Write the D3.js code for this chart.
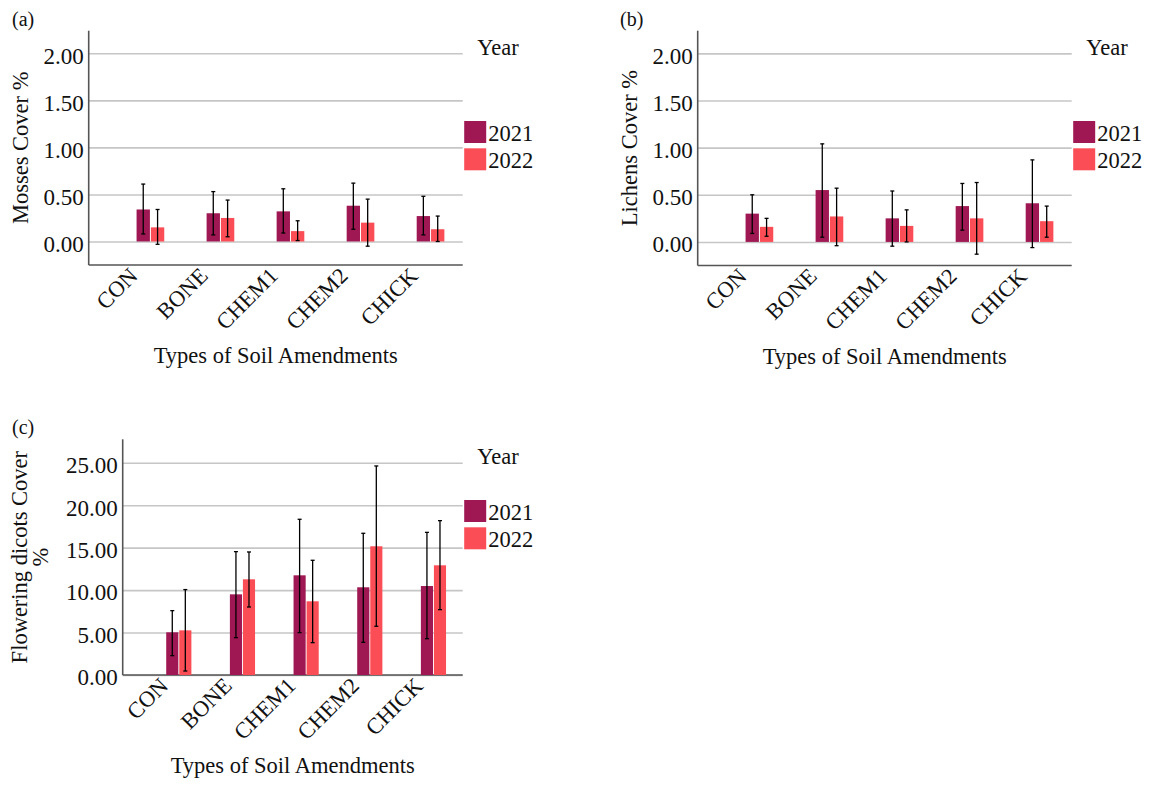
<!DOCTYPE html>
<html>
	<head>
		<meta charset="utf-8"/>
		<script type="text/javascript" src="https://cdn.jsdelivr.net/npm/d3@7"></script>
		<style>
			body {
				margin:0;
				background:#fff;
			}
			svg text {
				font-family:"Liberation Serif", "Times New Roman", serif;
				fill:#111;
			}
			.grid line {
				stroke:#c6c6c6;
				stroke-width:1.6;
			}
			.grid .domain {
				display:none;
			}
			.grid text {
				font-size:23px;
			}
			.axisline {
				stroke:#555;
				stroke-width:1.6;
			}
			.errbar {
				stroke:#000;
				stroke-width:1.3;
			}
		</style>
	</head>
	<body>
		<script>
			var categories = ["CON", "BONE", "CHEM1", "CHEM2", "CHICK"];
			var years = ["2021", "2022"];
			var colors = ["#9f1853", "#fa4d56"];

			var mosses2021 = [0.34, 0.30, 0.32, 0.38, 0.27];
			var mosses2021Low = [0.08, 0.07, 0.09, 0.13, 0.07];
			var mosses2021High = [0.61, 0.53, 0.56, 0.62, 0.48];
			var mosses2022 = [0.15, 0.25, 0.11, 0.20, 0.13];
			var mosses2022Low = [-0.03, 0.05, 0.01, -0.05, 0.00];
			var mosses2022High = [0.34, 0.44, 0.22, 0.45, 0.27];

			var lichens2021 = [0.30, 0.55, 0.25, 0.38, 0.41];
			var lichens2021Low = [0.09, 0.05, -0.045, 0.125, -0.06];
			var lichens2021High = [0.50, 1.04, 0.54, 0.62, 0.87];
			var lichens2022 = [0.16, 0.27, 0.17, 0.25, 0.22];
			var lichens2022Low = [0.06, -0.04, 0.00, -0.13, 0.05];
			var lichens2022High = [0.25, 0.57, 0.34, 0.63, 0.38];

			var dicots2021 = [5.03, 9.50, 11.74, 10.33, 10.48];
			var dicots2021Low = [2.28, 4.40, 4.99, 3.85, 4.28];
			var dicots2021High = [7.58, 14.53, 18.34, 16.69, 16.80];
			var dicots2022 = [5.26, 11.27, 8.68, 15.16, 12.92];
			var dicots2022Low = [0.47, 8.01, 3.81, 5.74, 7.70];
			var dicots2022High = [10.06, 14.49, 13.51, 24.62, 18.18];

			var ticksSmall = [0, 0.5, 1, 1.5, 2];
			var ticksLarge = [0, 5, 10, 15, 20, 25];

			var serif = "Liberation Serif, Times New Roman, serif";

			var svg = d3.select("body").append("svg")
				.attr("width", 1149)
				.attr("height", 785);

			drawPanel({
				label:"(a)", labelX:12, labelY:25.5,
				left:88.7, right:462.7, top:30.7, bottom:265,
				domain:[-0.25, 2.24], ticks:ticksSmall,
				title:["Mosses Cover %"],
				means:[mosses2021, mosses2022],
				lows:[mosses2021Low, mosses2022Low],
				highs:[mosses2021High, mosses2022High],
				swatchTop:121
			});
			drawPanel({
				label:"(b)", labelX:620, labelY:25.5,
				left:697.7, right:1071.7, top:30.7, bottom:265.5,
				domain:[-0.25, 2.24], ticks:ticksSmall,
				title:["Lichens Cover %"],
				means:[lichens2021, lichens2022],
				lows:[lichens2021Low, lichens2022Low],
				highs:[lichens2021High, lichens2022High],
				swatchTop:121
			});
			drawPanel({
				label:"(c)", labelX:12, labelY:434,
				left:122.7, right:462.7, top:439.3, bottom:675,
				domain:[0, 27.76], ticks:ticksLarge,
				title:["Flowering dicots Cover", "%"],
				means:[dicots2021, dicots2022],
				lows:[dicots2021Low, dicots2022Low],
				highs:[dicots2021High, dicots2022High],
				swatchTop:500
			});

			function drawPanel(p) {
				var W = p.right - p.left;
				var y = d3.scaleLinear().domain(p.domain).range([p.bottom, p.top]);
				var x = d3.scalePoint().domain(categories)
					.range([p.left + 0.165*W, p.left + 0.914*W]);
				var inner = d3.scaleBand().domain(years)
					.range([-0.037*W, 0.037*W]).paddingInner(0.07);

				var g = svg.append("g");

				g.append("g")
					.attr("class", "grid")
					.attr("transform", "translate(" + p.left + ",0)")
					.call(d3.axisLeft(y).tickValues(p.ticks)
						.tickFormat(d3.format(".2f"))
						.tickSize(-W).tickPadding(5))
					.attr("font-family", serif)
					.attr("font-size", 23)
					.selectAll("text").attr("dy", "0.43em");

				g.append("line").attr("class", "axisline")
					.attr("x1", p.left).attr("x2", p.left)
					.attr("y1", p.top).attr("y2", p.bottom);
				g.append("line").attr("class", "axisline")
					.attr("x1", p.left).attr("x2", p.right)
					.attr("y1", p.bottom).attr("y2", p.bottom);

				years.forEach(function(yr, k) {
					var rows = categories.map(function(c, i) {
						return {cat:c, v:p.means[k][i], lo:p.lows[k][i], hi:p.highs[k][i]};
					});
					var bars = g.append("g");
					bars.selectAll("rect").data(rows).enter().append("rect")
						.attr("x", function(d) { return x(d.cat) + inner(yr); })
						.attr("width", inner.bandwidth())
						.attr("y", function(d) { return y(d.v); })
						.attr("height", function(d) { return y(0) - y(d.v); })
						.attr("fill", colors[k]);

					var eb = g.append("g").attr("class", "errbar");
					rows.forEach(function(d) {
						var cx = x(d.cat) + inner(yr) + inner.bandwidth()/2;
						eb.append("line").attr("x1", cx).attr("x2", cx)
							.attr("y1", y(d.lo)).attr("y2", y(d.hi));
						eb.append("line").attr("x1", cx - 2).attr("x2", cx + 2)
							.attr("y1", y(d.lo)).attr("y2", y(d.lo));
						eb.append("line").attr("x1", cx - 2).attr("x2", cx + 2)
							.attr("y1", y(d.hi)).attr("y2", y(d.hi));
					});
				});

				// category labels, rotated
				categories.forEach(function(c) {
					var lx = x(c) - 0.06*W, ly = p.bottom + 1;
					g.append("text")
						.attr("transform", "translate(" + lx + "," + ly + ") rotate(-45)")
						.attr("text-anchor", "end")
						.attr("dy", "0.7em")
						.style("font-size", "22.5px")
						.text(c);
				});

				g.append("text")
					.attr("x", (p.left + p.right)/2)
					.attr("y", p.bottom + 98)
					.attr("text-anchor", "middle")
					.style("font-size", "22.5px")
					.text("Types of Soil Amendments");

				var cy = (p.top + p.bottom)/2;
				var n = p.title.length;
				p.title.forEach(function(t, i) {
					var bx = p.left - 61 - (n - 1 - i)*21 - (n > 1 ? 14 : 0);
					g.append("text")
						.attr("transform", "translate(" + bx + "," + cy + ") rotate(-90)")
						.attr("text-anchor", "middle")
						.style("font-size", "22.5px")
						.text(t);
				});

				g.append("text")
					.attr("x", p.labelX).attr("y", p.labelY)
					.style("font-size", "20px")
					.text(p.label);

				// legend
				var lx0 = p.right + 1.5;
				g.append("text")
					.attr("x", lx0 + 13).attr("y", p.top + 24.5)
					.style("font-size", "22.5px")
					.text("Year");
				years.forEach(function(yr, k) {
					var ty = p.swatchTop + k*27.3;
					g.append("rect")
						.attr("x", lx0).attr("y", ty)
						.attr("width", 22).attr("height", 22)
						.attr("fill", colors[k]);
					g.append("text")
						.attr("x", lx0 + 24).attr("y", ty + 19.5)
						.style("font-size", "22.5px")
						.text(yr);
				});
			}
		</script>
	</body>
</html>
